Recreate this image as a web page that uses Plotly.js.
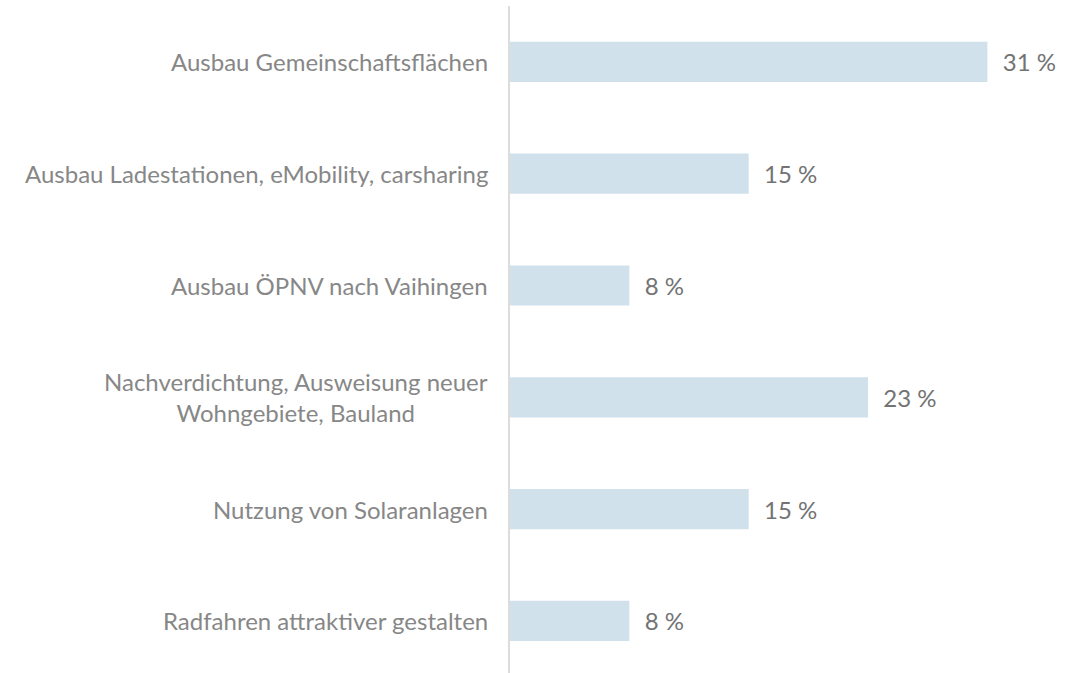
<!DOCTYPE html>
<html>
<head>
<meta charset="utf-8">
<script src="https://cdn.plot.ly/plotly-3.0.1.min.js"></script>
<style>
html,body{margin:0;padding:0;background:#fff;overflow:hidden;}
#chart{width:1086px;height:673px;}
</style>
</head>
<body>
<div id="chart"></div>
<script>
const categories = [
  "Ausbau Gemeinschaftsflächen",
  "Ausbau Ladestationen, eMobility, carsharing",
  "Ausbau ÖPNV nach Vaihingen",
  "Nachverdichtung, Ausweisung neuer<br>Wohngebiete, Bauland",
  "Nutzung von Solaranlagen",
  "Radfahren attraktiver gestalten"
];
const values = [30.8, 15.4, 7.7, 23.1, 15.4, 7.7];
const valueLabels = ["31 %", "15 %", "8 %", "23 %", "15 %", "8 %"];

const catIdx = categories.map((c, i) => i);

const trace = {
  type: 'bar',
  orientation: 'h',
  x: values,
  y: catIdx,
  width: 0.36,
  marker: {color: '#d1e1ec'},
  text: valueLabels.map(t => '\u00a0\u00a0' + t),
  textposition: 'outside',
  textfont: {family: 'Lato', size: 24, color: '#737373'},
  cliponaxis: false,
  hoverinfo: 'none'
};

const annotations = categories.map((c, i) => ({
  xref: 'paper', yref: 'y',
  x: 0, y: i,
  xanchor: 'right', yanchor: 'middle',
  xshift: -20,
  text: c,
  align: 'center',
  showarrow: false,
  font: {family: 'Lato', size: 24, color: '#878787'}
}));

const layout = {
  width: 1086, height: 673,
  margin: {l: 510, r: 0, t: 6, b: 0, pad: 0},
  paper_bgcolor: '#fff', plot_bgcolor: '#fff',
  showlegend: false,
  xaxis: {range: [0, 37.16], showgrid: false, zeroline: false, showticklabels: false, showline: false, ticks: ''},
  yaxis: {range: [5.466, -0.5], showgrid: false, zeroline: false, showticklabels: false, ticks: '',
          showline: true, linecolor: '#dcdcdc', linewidth: 2},
  annotations: annotations
};

Plotly.newPlot('chart', [trace], layout, {displayModeBar: false, staticPlot: true});
</script>
</body>
</html>
